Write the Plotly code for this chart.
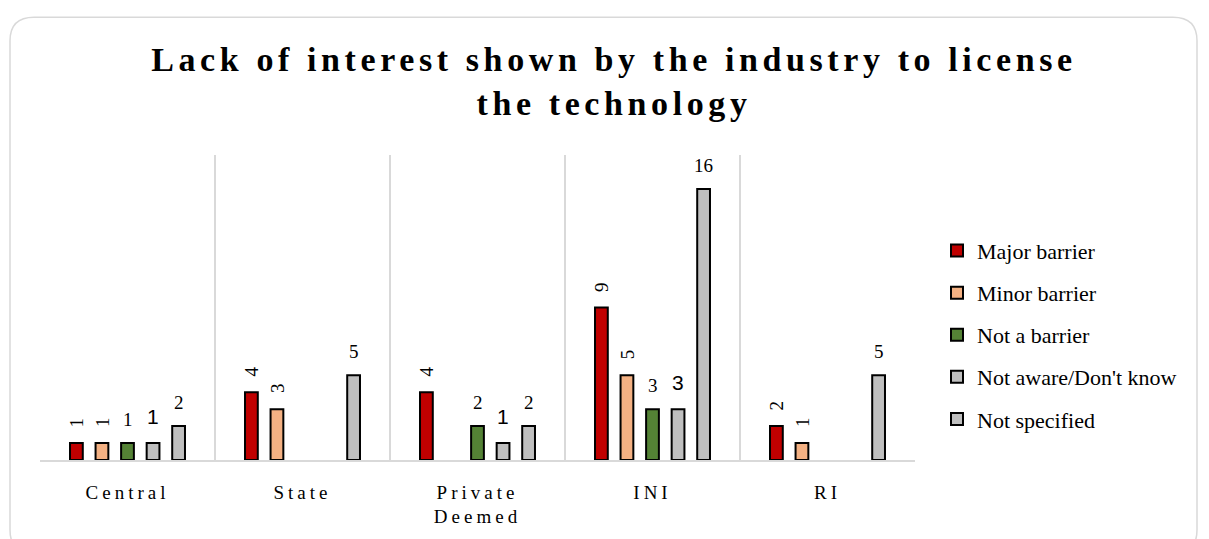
import plotly.graph_objects as go

# Survey responses by institution type
categories = ["Central", "State", "Private<br>Deemed", "INI", "RI"]
series_names = ["Major barrier", "Minor barrier", "Not a barrier",
                "Not aware/Don't know", "Not specified"]
major_barrier = [1, 4, 4, 9, 2]
minor_barrier = [1, 3, 0, 5, 1]
not_a_barrier = [1, 0, 2, 3, 0]
not_aware = [1, 0, 1, 3, 0]
not_specified = [2, 5, 2, 16, 5]

series_values = [major_barrier, minor_barrier, not_a_barrier, not_aware, not_specified]
colors = ["#C00000", "#F4B183", "#548235", "#BFBFBF", "#BFBFBF"]
label_angles = [-90, -90, 0, 0, 0]
label_fonts = ["Liberation Serif", "Liberation Serif", "Liberation Serif",
               "Liberation Sans", "Liberation Serif"]
label_sizes = [19, 19, 19, 21, 19]
label_lift = [14, 14, 11, 13, 11]

W, H = 1209, 539
L, R, T, B = 40, 915, 155, 465  # plot area in pixels
BARGAP = 0.27
n_series = len(series_names)
slot = (1 - BARGAP) / n_series

fig = go.Figure()
for name, vals, col in zip(series_names, series_values, colors):
    fig.add_trace(go.Bar(
        name=name,
        x=categories,
        y=[v if v else None for v in vals],
        marker=dict(color=col, line=dict(color="#000000", width=2)),
        legendgroup=name,
    ))

# value labels above each bar
for i, (vals, ang, fam, sz, lift) in enumerate(zip(series_values, label_angles,
                                                  label_fonts, label_sizes, label_lift)):
    for ci, v in enumerate(vals):
        if not v:
            continue
        fig.add_annotation(
            x=ci + (i - (n_series - 1) / 2) * slot, y=v,
            xref="x", yref="y",
            text=str(v), showarrow=False, textangle=ang,
            xanchor="center", yanchor="bottom", yshift=lift,
            font=dict(family=fam, size=sz, color="#000000"),
        )


def px(xp):
    return (xp - L) / (R - L)


def py(yp):
    return (B - yp) / (B - T)


# rounded chart frame
x0, y0, x1, y1, r = 10, 15, 1197, 560, 24
frame = (
    f"M {px(x0)} {py(y0 + r)} "
    f"Q {px(x0)} {py(y0)} {px(x0 + r)} {py(y0)} "
    f"L {px(x1 - r)} {py(y0)} "
    f"Q {px(x1)} {py(y0)} {px(x1)} {py(y0 + r)} "
    f"L {px(x1)} {py(y1 - r)} "
    f"Q {px(x1)} {py(y1)} {px(x1 - r)} {py(y1)} "
    f"L {px(x0 + r)} {py(y1)} "
    f"Q {px(x0)} {py(y1)} {px(x0)} {py(y1 - r)} Z"
)
fig.add_shape(type="path", path=frame, xref="paper", yref="paper",
              line=dict(color="#D9D9D9", width=1.5), layer="below")

fig.update_layout(
    width=W, height=H,
    margin=dict(l=L, r=W - R, t=T, b=H - B),
    paper_bgcolor="white", plot_bgcolor="white",
    font=dict(family="Liberation Serif", color="#000000"),
    barmode="group", bargap=BARGAP, bargroupgap=0.5,
    title=dict(
        text="<b>Lack of interest shown by the industry to license<br>the technology</b>",
        font=dict(family="Liberation Serif", size=34, color="#000000"),
        x=614 / W, xanchor="center", xref="container",
        y=1 - 71 / H, yanchor="top", yref="container",
    ),
    xaxis=dict(
        type="category", range=[-0.5, 4.5],
        showgrid=True, tickson="boundaries", gridcolor="#D9D9D9", gridwidth=1.5,
        showline=True, linecolor="#D9D9D9", linewidth=1.5,
        ticks="", ticklabelstandoff=14,
        tickfont=dict(family="Liberation Serif", size=19, color="#000000"),
        fixedrange=True,
    ),
    yaxis=dict(range=[0, 18], visible=False, showgrid=False, zeroline=False),
    legend=dict(
        x=px(937), xanchor="left", y=py(231), yanchor="top",
        font=dict(family="Liberation Serif", size=22, color="#000000"),
        tracegroupgap=10.5, traceorder="grouped",
        bgcolor="rgba(0,0,0,0)", borderwidth=0,
    ),
    showlegend=True,
)

spacing_js = """
var gd = document.getElementById('{plot_id}');
function spaceText() {
  gd.querySelectorAll('.xtick text').forEach(function (t) { t.style.letterSpacing = '4px'; });
  gd.querySelectorAll('.gtitle').forEach(function (t) { t.style.letterSpacing = '4.6px'; });
}
spaceText();
gd.on('plotly_afterplot', spaceText);
"""

fig.write_html("out.html", post_script=spacing_js)
